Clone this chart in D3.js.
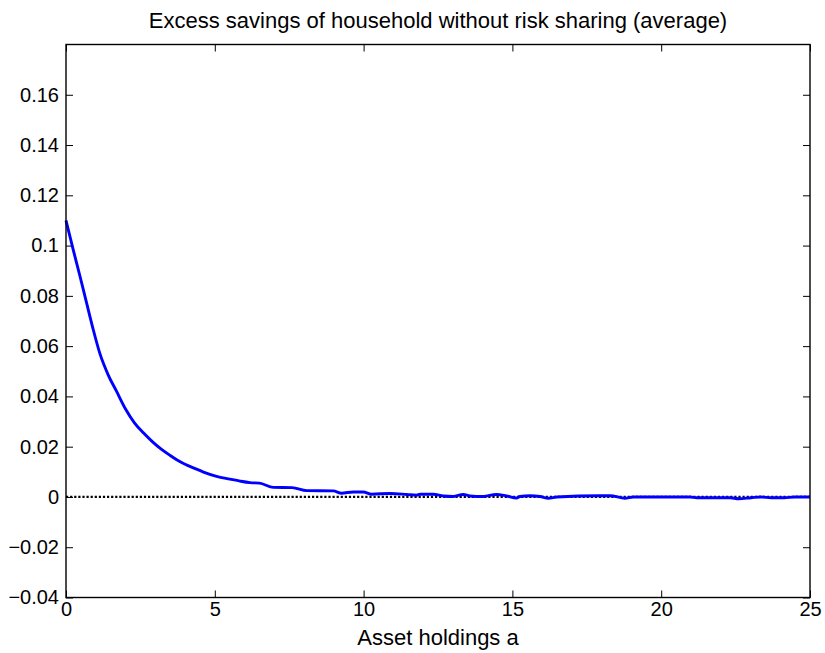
<!DOCTYPE html>
<html lang="en">
<head>
<meta charset="UTF-8">
<title>Excess savings</title>
<style>
    body{ margin:0; background:#fff; }
    svg{ display:block; background:#fff; }
    text{ font-family: "Liberation Sans", Arial, Helvetica, sans-serif; fill:#000; }
    .axis text{ font-size:20px; }
    .axis .domain{ display:none; }
    .axis line{ stroke:#000; stroke-width:1; }
    .title{ font-size:22px; }
    .xlabel{ font-size:22px; }
    .frame{ fill:none; stroke:#000; stroke-width:1.4; }
    .zero{ stroke:#000; stroke-width:2.2; stroke-dasharray:2.2 1.9; fill:none; }
    .curve{ stroke:#0000ff; stroke-width:2.9; fill:none; stroke-linejoin:round; }
</style>
<script src="https://cdn.jsdelivr.net/npm/d3@7"></script>
</head>
<body>
<script>
    // values
    const assets = [0, 0.25, 0.47, 0.7, 0.9, 1.14, 1.42, 1.7, 2.0, 2.3, 2.6, 2.9, 3.2, 3.5, 3.72, 4.0,
        4.3, 4.62, 5.06, 5.51, 5.85, 6.18, 6.5, 6.97, 7.6, 8.09, 8.98, 9.26, 9.65, 9.99, 10.27,
        10.89, 11.45, 11.78, 11.9, 12.34, 12.68, 13.01, 13.35, 13.57, 14.02, 14.46, 14.8, 15.14,
        15.25, 15.59, 15.93, 16.21, 16.49, 17.94, 18.28, 18.78, 19.06, 20.97, 21.19, 22.32, 22.6,
        23.02, 23.35, 23.69, 24.14, 24.48, 25];
    const excess = [0.110, 0.098, 0.0878, 0.0768, 0.0673, 0.057, 0.0485, 0.042, 0.035, 0.0295, 0.0255, 0.022, 0.019, 0.0165, 0.0148, 0.013,
        0.0115, 0.0099, 0.0082, 0.0071, 0.0063, 0.0057, 0.0055, 0.0038, 0.0037, 0.0025, 0.0024, 0.0015, 0.0020, 0.0020, 0.0011,
        0.0014, 0.0010, 0.0007, 0.0011, 0.0011, 0.0004, 0.0002, 0.0010, 0.0004, 0.0002, 0.0010, 0.0004, -0.0004,
        0.0002, 0.0005, 0.0002, -0.0005, 0, 0.0005, 0.0005, -0.0005, 0, 0, -0.0003, -0.0003, -0.0007,
        -0.0003, 0, -0.0003, -0.0003, 0, 0];
    const xTicks = [0, 5, 10, 15, 20, 25];
    const yTicks = [-0.04, -0.02, 0, 0.02, 0.04, 0.06, 0.08, 0.1, 0.12, 0.14, 0.16];
    const xDomain = [0, 25];
    const yDomain = [-0.04, 0.18];

    const width = 825, height = 653;
    const margins = {top: 44.5, right: 15, bottom: 55.5, left: 66};

    const svg = d3.select("body").append("svg")
        .attr("width", width).attr("height", height);

    const x = d3.scaleLinear().domain(xDomain).range([margins.left, width - margins.right]);
    const y = d3.scaleLinear().domain(yDomain).range([height - margins.bottom, margins.top]);

    const fmt = d => d3.format("~g")(d).replace("-", "\u2212");

    // axes, ticks pointing inward
    svg.append("g").attr("class", "axis")
        .attr("transform", `translate(0,${y(yDomain[0])})`)
        .call(d3.axisBottom(x).tickValues(xTicks).tickFormat(fmt).tickSizeInner(-7).tickSizeOuter(0).tickPadding(4));
    svg.append("g").attr("class", "axis")
        .attr("transform", `translate(0,${y(yDomain[1])})`)
        .call(d3.axisTop(x).tickValues(xTicks).tickFormat("").tickSizeInner(-7).tickSizeOuter(0));
    svg.append("g").attr("class", "axis")
        .attr("transform", `translate(${x(xDomain[0])},0)`)
        .call(d3.axisLeft(y).tickValues(yTicks).tickFormat(fmt).tickSizeInner(-7).tickSizeOuter(0).tickPadding(7));
    svg.append("g").attr("class", "axis")
        .attr("transform", `translate(${x(xDomain[1])},0)`)
        .call(d3.axisRight(y).tickValues(yTicks).tickFormat("").tickSizeInner(-7).tickSizeOuter(0));

    // zero reference line
    svg.append("line").attr("class", "zero")
        .attr("x1", x(xDomain[0])).attr("x2", x(xDomain[1]))
        .attr("y1", y(0)).attr("y2", y(0));

    // curve
    const pts = assets.map((a, i) => [a, excess[i]]);
    svg.append("path").attr("class", "curve")
        .attr("d", d3.line().x(d => x(d[0])).y(d => y(d[1])).curve(d3.curveMonotoneX)(pts));

    // plot box
    svg.append("rect").attr("class", "frame")
        .attr("x", x(xDomain[0])).attr("y", y(yDomain[1]))
        .attr("width", x(xDomain[1]) - x(xDomain[0]))
        .attr("height", y(yDomain[0]) - y(yDomain[1]));

    svg.append("text").attr("class", "title")
        .attr("x", (x(xDomain[0]) + x(xDomain[1])) / 2).attr("y", 28)
        .attr("text-anchor", "middle")
        .text("Excess savings of household without risk sharing (average)");

    svg.append("text").attr("class", "xlabel")
        .attr("x", (x(xDomain[0]) + x(xDomain[1])) / 2).attr("y", 645)
        .attr("text-anchor", "middle")
        .text("Asset holdings a");
</script>
</body>
</html>
